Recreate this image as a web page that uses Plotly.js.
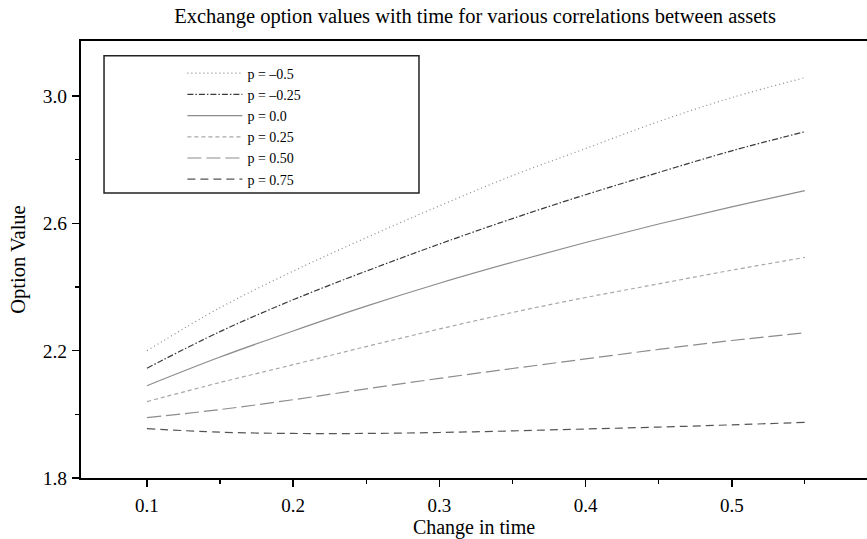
<!DOCTYPE html>
<html>
<head>
<meta charset="utf-8">
<script src="https://cdn.plot.ly/plotly-3.0.1.min.js"></script>
<style>html,body{margin:0;padding:0;background:#fff;}#chart{width:867px;height:539px;}</style>
</head>
<body>
<div id="chart"></div>
<script>
// Change in time (x)
const times = [0.10, 0.15, 0.20, 0.25, 0.30, 0.35, 0.40, 0.45, 0.50, 0.55];
// Option values for each correlation
const rhoM050 = [2.200, 2.335, 2.450, 2.555, 2.655, 2.750, 2.835, 2.920, 2.995, 3.058];
const rhoM025 = [2.145, 2.260, 2.360, 2.450, 2.535, 2.615, 2.690, 2.760, 2.828, 2.888];
const rho000  = [2.090, 2.180, 2.262, 2.340, 2.412, 2.478, 2.540, 2.598, 2.652, 2.703];
const rho025  = [2.040, 2.100, 2.156, 2.213, 2.268, 2.320, 2.367, 2.410, 2.453, 2.493];
const rho050  = [1.990, 2.015, 2.046, 2.080, 2.113, 2.144, 2.174, 2.204, 2.232, 2.256];
const rho075  = [1.955, 1.944, 1.940, 1.940, 1.943, 1.948, 1.954, 1.960, 1.967, 1.975];
const seriesNames = ["p = \u20130.5", "p = \u20130.25", "p = 0.0", "p = 0.25", "p = 0.50", "p = 0.75"];
const xTickVals = [0.1, 0.2, 0.3, 0.4, 0.5];
const xTickText = ["0.1", "0.2", "0.3", "0.4", "0.5"];
const yTickVals = [1.8, 2.2, 2.6, 3.0];
const yTickText = ["1.8", "2.2", "2.6", "3.0"];

const seriesValues = [rhoM050, rhoM025, rho000, rho025, rho050, rho075];
const styles = [
  {color: "#8a8a8a", dash: "1px,3px"},
  {color: "#3a3a3a", dash: "6px,2px,1.5px,2px"},
  {color: "#8c8c8c", dash: "solid"},
  {color: "#a8a8a8", dash: "4px,3px"},
  {color: "#8c8c8c", dash: "14px,5px"},
  {color: "#555555", dash: "8px,5px"}
];

const serif = "'Liberation Serif', 'Times New Roman', Times, serif";

const traces = seriesValues.map((vals, i) => ({
  x: times,
  y: vals,
  name: seriesNames[i],
  type: "scatter",
  mode: "lines",
  line: {color: styles[i].color, dash: styles[i].dash, width: 1.2, shape: "spline"}
}));

const layout = {
  width: 867,
  height: 539,
  margin: {l: 81, r: 0, t: 41, b: 61},
  paper_bgcolor: "#fff",
  plot_bgcolor: "#fff",
  font: {family: serif, color: "#000", size: 20},
  title: {
    text: "Exchange option values with time for various correlations between assets",
    font: {family: serif, size: 20.5, color: "#000"},
    x: 0.548, xanchor: "center", y: 0.97, yanchor: "middle"
  },
  xaxis: {
    range: [0.0549, 0.5925],
    tickvals: xTickVals,
    ticktext: xTickText,
    ticks: "outside", ticklen: 7, tickwidth: 1.5, tickcolor: "#000",
    ticklabelstandoff: 2,
    minor: {dtick: 0.05, tick0: 0.05, ticks: "outside", ticklen: 4, tickwidth: 1.2, tickcolor: "#000"},
    showline: true, linecolor: "#000", linewidth: 2, mirror: true,
    showgrid: false, zeroline: false,
    tickfont: {family: serif, size: 19, color: "#000"},
    title: {text: "Change in time", font: {family: serif, size: 20, color: "#000"}, standoff: 8}
  },
  yaxis: {
    range: [1.8, 3.173],
    tickvals: yTickVals,
    ticktext: yTickText,
    ticks: "outside", ticklen: 7, tickwidth: 1.5, tickcolor: "#000",
    ticklabelstandoff: 1,
    minor: {dtick: 0.2, tick0: 1.8, ticks: "outside", ticklen: 4, tickwidth: 1.2, tickcolor: "#000"},
    showline: true, linecolor: "#000", linewidth: 2,
    showgrid: false, zeroline: false,
    tickfont: {family: serif, size: 19.5, color: "#000"},
    title: {text: "Option Value", font: {family: serif, size: 20.5, color: "#000"}, standoff: 12}
  },
  showlegend: true,
  legend: {
    x: 0.129, xanchor: "left",
    y: 0.962, yanchor: "top",
    bgcolor: "rgba(0,0,0,0)",
    borderwidth: 0,
    itemwidth: 55,
    font: {family: serif, size: 14, color: "#000"},
    tracegroupgap: 0
  },
  shapes: [{
    type: "rect", xref: "paper", yref: "paper",
    x0: 0.0293, x1: 0.430, y0: 0.652, y1: 0.966,
    line: {color: "#222", width: 1.5}, fillcolor: "rgba(0,0,0,0)", layer: "below"
  }]
};

Plotly.newPlot("chart", traces, layout, {displayModeBar: false, staticPlot: true});
</script>
</body>
</html>
